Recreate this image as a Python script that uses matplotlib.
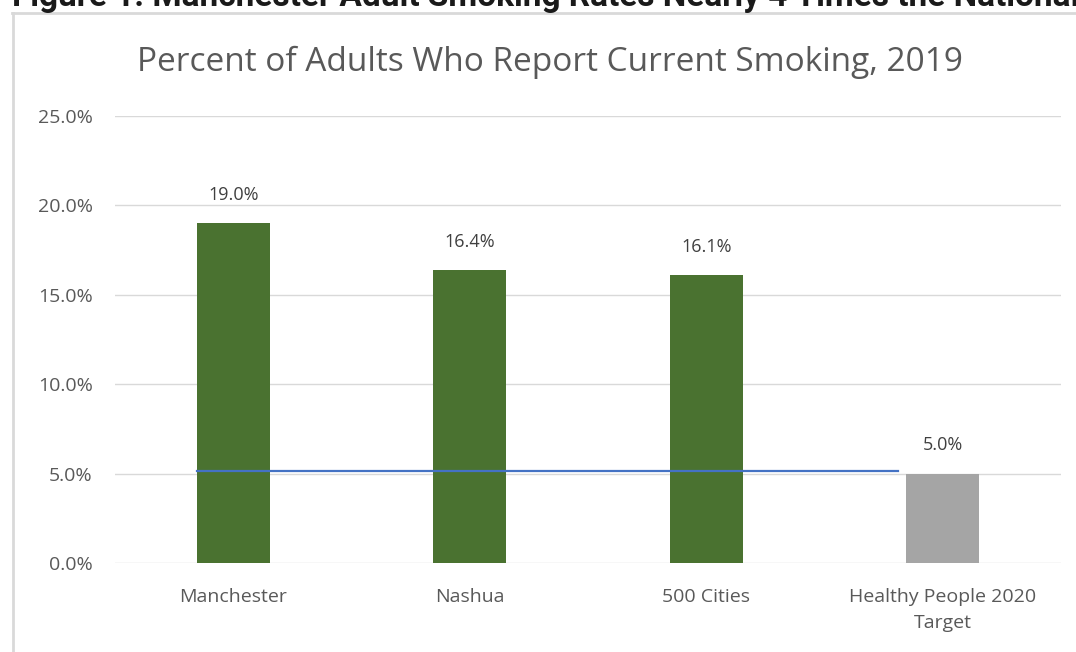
import matplotlib
matplotlib.use("Agg")
import matplotlib.pyplot as plt
from matplotlib.lines import Line2D

# data
categories = ["Manchester", "Nashua", "500 Cities", "Healthy People 2020\nTarget"]
values = [19.0, 16.4, 16.1, 5.0]
bar_colors = ["#4a7230", "#4a7230", "#4a7230", "#a5a5a5"]
target_line = 5.15
yticks = [0, 5, 10, 15, 20, 25]

W, H = 1076, 652
fig = plt.figure(figsize=(W / 100, H / 100), dpi=100)

# cut-off figure caption at the very top
fig.text(12 / W, 1 - 6 / H, "Figure 1. Manchester Adult Smoking Rates Nearly 4 Times the National Average",
         fontsize=24, fontweight="bold", family="Roboto", color="#1a1a1a", va="baseline", ha="left")

# chart border (top and left edges)
fig.add_artist(Line2D([12 / W, 1], [1 - 13 / H, 1 - 13 / H], color="#d9d9d9", lw=2))
fig.add_artist(Line2D([13 / W, 13 / W], [0, 1 - 13 / H], color="#d9d9d9", lw=2))

ax = fig.add_axes([115 / W, 1 - 563 / H, (1061 - 115) / W, (563 - 116) / H])
x = range(len(categories))
ax.bar(x, values, width=0.31, color=bar_colors, zorder=3)
for xi, v in zip(x, values):
    ax.text(xi, v + 1.3, f"{v:.1f}%", ha="center", va="baseline", fontsize=13,
            color="#404040", family="Open Sans")

ax.plot([-0.155, 2.81], [target_line, target_line], color="#4472c4", lw=1.6, zorder=4)

ax.set_xlim(-0.5, 3.5)
ax.set_ylim(0, 25)
ax.set_yticks(yticks)
ax.set_yticklabels([f"{t:.1f}%" for t in yticks])
ax.set_xticks(list(x))
ax.set_xticklabels(categories, linespacing=1.6)
ax.grid(axis="y", color="#d9d9d9", lw=1, zorder=0)
for s in ax.spines.values():
    s.set_visible(False)
ax.tick_params(length=0, labelcolor="#595959")
ax.tick_params(axis="x", pad=18, labelsize=14)
ax.tick_params(axis="y", pad=16, labelsize=14)
for lab in ax.get_xticklabels() + ax.get_yticklabels():
    lab.set_family("Open Sans")

fig.text(550 / W, 1 - 62 / H, "Percent of Adults Who Report Current Smoking, 2019",
         ha="center", va="center", fontsize=24, color="#595959", family="Open Sans")

fig.savefig("out.png", dpi=100)
